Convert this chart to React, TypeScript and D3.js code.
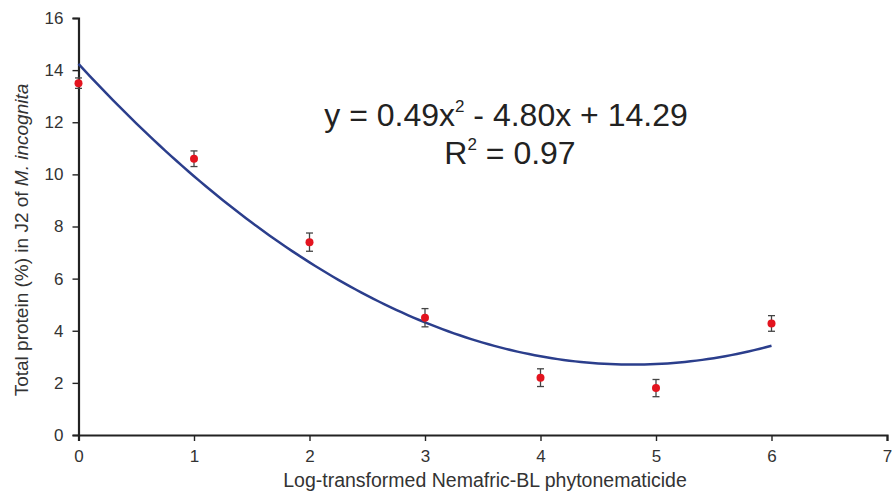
import * as d3 from 'd3'
import React, { useEffect, useRef } from 'react'

const doses = [0, 1, 2, 3, 4, 5, 6]
const protein = [13.5, 10.6, 7.4, 4.5, 2.2, 1.8, 4.28]
const errors = [0.2, 0.3, 0.35, 0.35, 0.34, 0.33, 0.3]
const xTicks = [0, 1, 2, 3, 4, 5, 6, 7]
const yTicks = [0, 2, 4, 6, 8, 10, 12, 14, 16]

// least squares quadratic fit on the points above
const fitQuadratic = (xs, ys) => {
  const n = xs.length
  const s = k => d3.sum(xs, x => Math.pow(x, k))
  const t = k => d3.sum(xs, (x, i) => Math.pow(x, k) * ys[i])
  const m = [
    [n, s(1), s(2), t(0)],
    [s(1), s(2), s(3), t(1)],
    [s(2), s(3), s(4), t(2)]
  ]
  for (let i = 0; i < 3; i++) {
    for (let j = i + 1; j < 3; j++) {
      const f = m[j][i] / m[i][i]
      for (let k = i; k < 4; k++) m[j][k] -= f * m[i][k]
    }
  }
  const c = [0, 0, 0]
  for (let i = 2; i >= 0; i--) {
    let v = m[i][3]
    for (let k = i + 1; k < 3; k++) v -= m[i][k] * c[k]
    c[i] = v / m[i][i]
  }
  return c
}

export default function App() {
  const ref = useRef(null)

  useEffect(() => {
    const svg = d3.select(ref.current)
    svg.selectAll('*').remove()
    const font = 'Liberation Sans, Arial, sans-serif'

    const x = d3.scaleLinear().domain([0, 7]).range([78.5, 887])
    const y = d3.scaleLinear().domain([0, 16]).range([435, 18])

    // axes
    const yAxis = svg
      .append('g')
      .attr('transform', `translate(${x(0)},0)`)
      .call(
        d3
          .axisLeft(y)
          .tickValues(yTicks)
          .tickFormat(d3.format('d'))
          .tickSize(6)
          .tickPadding(9)
      )
    const xAxis = svg
      .append('g')
      .attr('transform', `translate(0,${y(0)})`)
      .call(
        d3
          .axisBottom(x)
          .tickValues(xTicks)
          .tickFormat(d3.format('d'))
          .tickSize(6)
          .tickPadding(9)
      )

    ;[xAxis, yAxis].forEach(g => {
      g.select('.domain').attr('stroke', '#222').attr('stroke-width', 2.2)
      g.selectAll('.tick line').attr('stroke', '#222').attr('stroke-width', 1.4)
      g.selectAll('.tick text')
        .attr('fill', '#333')
        .style('font-family', font)
        .style('font-size', '17px')
    })

    // fitted curve
    const [a, b, c] = fitQuadratic(doses, protein)
    const curveXs = d3.range(0, 6.001, 0.05)
    svg
      .append('path')
      .datum(curveXs)
      .attr('fill', 'none')
      .attr('stroke', '#2b3e8c')
      .attr('stroke-width', 2.5)
      .attr(
        'd',
        d3
          .line()
          .x(d => x(d))
          .y(d => y(a + b * d + c * d * d))
      )

    // error bars
    const bars = svg
      .append('g')
      .selectAll('g')
      .data(doses)
      .enter()
      .append('g')
      .attr('stroke', '#444')
      .attr('stroke-width', 1.3)
    bars
      .append('line')
      .attr('x1', d => x(d))
      .attr('x2', d => x(d))
      .attr('y1', (d, i) => y(protein[i] + errors[i]))
      .attr('y2', (d, i) => y(protein[i] - errors[i]))
    bars
      .append('line')
      .attr('x1', d => x(d) - 3.5)
      .attr('x2', d => x(d) + 3.5)
      .attr('y1', (d, i) => y(protein[i] + errors[i]))
      .attr('y2', (d, i) => y(protein[i] + errors[i]))
    bars
      .append('line')
      .attr('x1', d => x(d) - 3.5)
      .attr('x2', d => x(d) + 3.5)
      .attr('y1', (d, i) => y(protein[i] - errors[i]))
      .attr('y2', (d, i) => y(protein[i] - errors[i]))

    // points
    svg
      .append('g')
      .selectAll('circle')
      .data(doses)
      .enter()
      .append('circle')
      .attr('cx', d => x(d))
      .attr('cy', (d, i) => y(protein[i]))
      .attr('r', 4)
      .attr('fill', '#e3141f')

    // equation
    const eq = svg
      .append('text')
      .attr('x', 506)
      .attr('y', 126)
      .attr('text-anchor', 'middle')
      .attr('fill', '#222')
      .style('font-family', font)
      .style('font-size', '32px')
    eq.append('tspan').text('y = 0.49x')
    eq.append('tspan').attr('dy', -14).style('font-size', '17px').text('2')
    eq.append('tspan').attr('dy', 14).text(' - 4.80x + 14.29')

    const r2 = svg
      .append('text')
      .attr('x', 510)
      .attr('y', 164)
      .attr('text-anchor', 'middle')
      .attr('fill', '#222')
      .style('font-family', font)
      .style('font-size', '32px')
    r2.append('tspan').text('R')
    r2.append('tspan').attr('dy', -14).style('font-size', '17px').text('2')
    r2.append('tspan').attr('dy', 14).text(' = 0.97')

    // axis titles
    svg
      .append('text')
      .attr('x', 485)
      .attr('y', 487)
      .attr('text-anchor', 'middle')
      .attr('fill', '#333')
      .style('font-family', font)
      .style('font-size', '19.5px')
      .text('Log-transformed Nemafric-BL phytonematicide')

    const yt = svg
      .append('text')
      .attr('transform', 'translate(28,240) rotate(-90)')
      .attr('text-anchor', 'middle')
      .attr('fill', '#333')
      .style('font-family', font)
      .style('font-size', '19px')
    yt.append('tspan').text('Total protein (%) in J2 of ')
    yt.append('tspan').style('font-style', 'italic').text('M. incognita')
  }, [ref])

  return (
    <svg
      ref={ref}
      width="892"
      height="491"
      style={{ position: 'absolute', left: 0, top: 0, background: '#fff' }}
    />
  )
}
